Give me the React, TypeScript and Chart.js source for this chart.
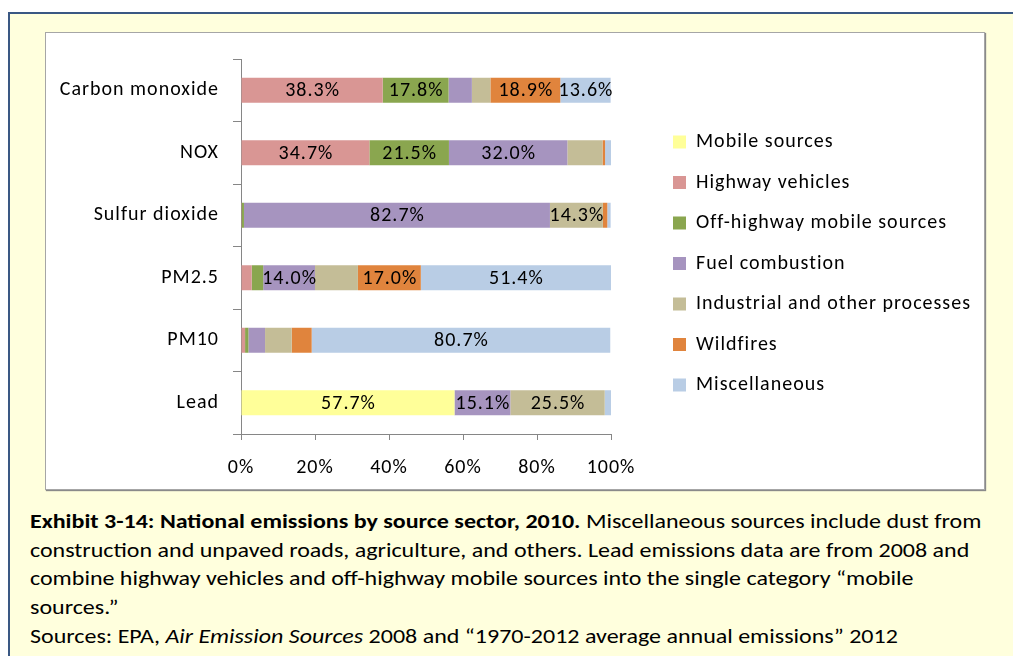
import React, { useEffect, useRef } from "react";
import { Chart, registerables } from "chart.js";

Chart.register(...registerables);

const categories = ["Carbon monoxide", "NOX", "Sulfur dioxide", "PM2.5", "PM10", "Lead"];
const mobileSources = [0, 0, 0, 0, 0, 57.7];
const highwayVehicles = [38.3, 34.7, 0.2, 2.9, 1.1, 0];
const offHighwayMobile = [17.8, 21.5, 0.6, 3.1, 0.9, 0];
const fuelCombustion = [6.3, 32.0, 82.7, 14.0, 4.5, 15.1];
const industrialProcesses = [5.0, 9.5, 14.3, 11.6, 7.2, 25.5];
const wildfires = [18.9, 0.7, 1.2, 17.0, 5.4, 0];
const miscellaneous = [13.6, 1.6, 0.9, 51.4, 80.7, 1.7];
const xTicks = [0, 20, 40, 60, 80, 100];

const seriesNames = [
  "Mobile sources",
  "Highway vehicles",
  "Off-highway mobile sources",
  "Fuel combustion",
  "Industrial and other processes",
  "Wildfires",
  "Miscellaneous",
];
const seriesValues = [
  mobileSources,
  highwayVehicles,
  offHighwayMobile,
  fuelCombustion,
  industrialProcesses,
  wildfires,
  miscellaneous,
];
const seriesColors = ["#FFFF99", "#D99694", "#8AA64F", "#A694BF", "#C4BD97", "#E0843D", "#B9CDE5"];

const FONT = "Carlito, Lato, sans-serif";
const AXIS = "#868686";
const SPACING = "1px";

const spacingPlugin = {
  id: "letterSpacing",
  beforeUpdate(chart: any) {
    chart.ctx.letterSpacing = SPACING;
  },
  beforeLayout(chart: any) {
    chart.ctx.letterSpacing = SPACING;
  },
  beforeDraw(chart: any) {
    chart.ctx.letterSpacing = SPACING;
  },
};

const labelPlugin = {
  id: "segmentLabels",
  afterDatasetsDraw(chart: any) {
    const ctx = chart.ctx;
    ctx.save();
    ctx.letterSpacing = SPACING;
    ctx.font = `20px ${FONT}`;
    ctx.fillStyle = "#000";
    ctx.textAlign = "center";
    ctx.textBaseline = "middle";
    chart.data.datasets.forEach((ds: any, i: number) => {
      const meta = chart.getDatasetMeta(i);
      meta.data.forEach((el: any, j: number) => {
        const v = ds.data[j];
        if (v >= 13) {
          ctx.fillText(v.toFixed(1) + "%", (el.x + el.base) / 2 + 0.5, el.y + 1);
        }
      });
    });
    ctx.restore();
  },
};

const legendPlace = {
  id: "legendPlace",
  afterLayout(chart: any) {
    const lg = chart.legend;
    if (!lg) return;
    lg.left = 606.5;
    lg.right = chart.width;
    lg.width = lg.right - lg.left;
    lg.top = 26;
    lg.bottom = 435;
    lg.height = lg.bottom - lg.top;
  },
};

function EmissionsChart() {
  const ref = useRef<HTMLCanvasElement | null>(null);
  useEffect(() => {
    if (!ref.current) return;
    const chart = new Chart(ref.current, {
      type: "bar",
      data: {
        labels: categories,
        datasets: seriesNames.map((name, i) => ({
          label: name,
          data: seriesValues[i],
          backgroundColor: seriesColors[i],
          borderWidth: 0,
          barPercentage: 1,
          categoryPercentage: 0.4,
        })),
      },
      options: {
        indexAxis: "y",
        responsive: false,
        animation: false,
        layout: { padding: { top: 24, left: 0, right: 273, bottom: 7 } },
        plugins: {
          tooltip: { enabled: false },
          legend: {
            position: "right",
            align: "center",
            maxWidth: 100,
            labels: {
              boxWidth: 13,
              boxHeight: 13,
              padding: 20.5,
              color: "#000",
              font: { family: FONT, size: 20 },
            },
          },
        },
        scales: {
          x: {
            type: "linear",
            stacked: true,
            min: 0,
            max: 100,
            afterFit: (s: any) => {
              s.height = 48;
            },
            afterBuildTicks: (s: any) => {
              s.ticks = xTicks.map((v) => ({ value: v }));
            },
            ticks: {
              color: "#000",
              font: { family: FONT, size: 20 },
              padding: 16,
              callback: (v: any) => v + "%",
            },
            grid: { drawOnChartArea: false, drawTicks: true, tickLength: 6, color: AXIS },
            border: { color: AXIS, width: 1 },
          },
          y: {
            type: "category",
            stacked: true,
            afterFit: (s: any) => {
              s.width = 195;
            },
            ticks: {
              color: "#000",
              font: { family: FONT, size: 20 },
              padding: 14,
            },
            grid: { offset: true, drawOnChartArea: false, drawTicks: true, tickLength: 8, color: AXIS },
            border: { color: AXIS, width: 1 },
          },
        },
      },
      plugins: [spacingPlugin, labelPlugin, legendPlace],
    } as any);
    return () => chart.destroy();
  }, []);
  return <canvas ref={ref} width={938} height={456} style={{ display: "block" }} />;
}

export default function App() {
  return (
    <div style={{ position: "fixed", inset: 0, overflow: "hidden", background: "#fff" }}>
      <div
        style={{
          position: "absolute",
          left: 8,
          top: 12,
          width: 1100,
          height: 700,
          background: "#FFFFDD",
          borderTop: "2px solid #3A5883",
          borderLeft: "2px solid #3A5883",
        }}
      />
      <div
        style={{
          position: "absolute",
          left: 45,
          top: 32,
          width: 938,
          height: 456,
          background: "#fff",
          border: "1px solid #a6a6a6",
          boxShadow: "1px 1px 1px #8a8a8a",
        }}
      >
        <EmissionsChart />
      </div>
      <div
        style={{
          position: "absolute",
          left: 30,
          top: 507,
          fontFamily: FONT,
          fontSize: 20,
          lineHeight: "28.7px",
          color: "#000",
          whiteSpace: "nowrap",
          transform: "scaleX(1.2)",
          transformOrigin: "0 0",
        }}
      >
        <b>Exhibit 3-14: National emissions by source sector, 2010.</b> Miscellaneous sources include dust from
        <br />
        construction and unpaved roads, agriculture, and others. Lead emissions data are from 2008 and
        <br />
        combine highway vehicles and off-highway mobile sources into the single category “mobile
        <br />
        sources.”
        <br />
        Sources: EPA, <i>Air Emission Sources</i> 2008 and “1970-2012 average annual emissions” 2012
      </div>
    </div>
  );
}
